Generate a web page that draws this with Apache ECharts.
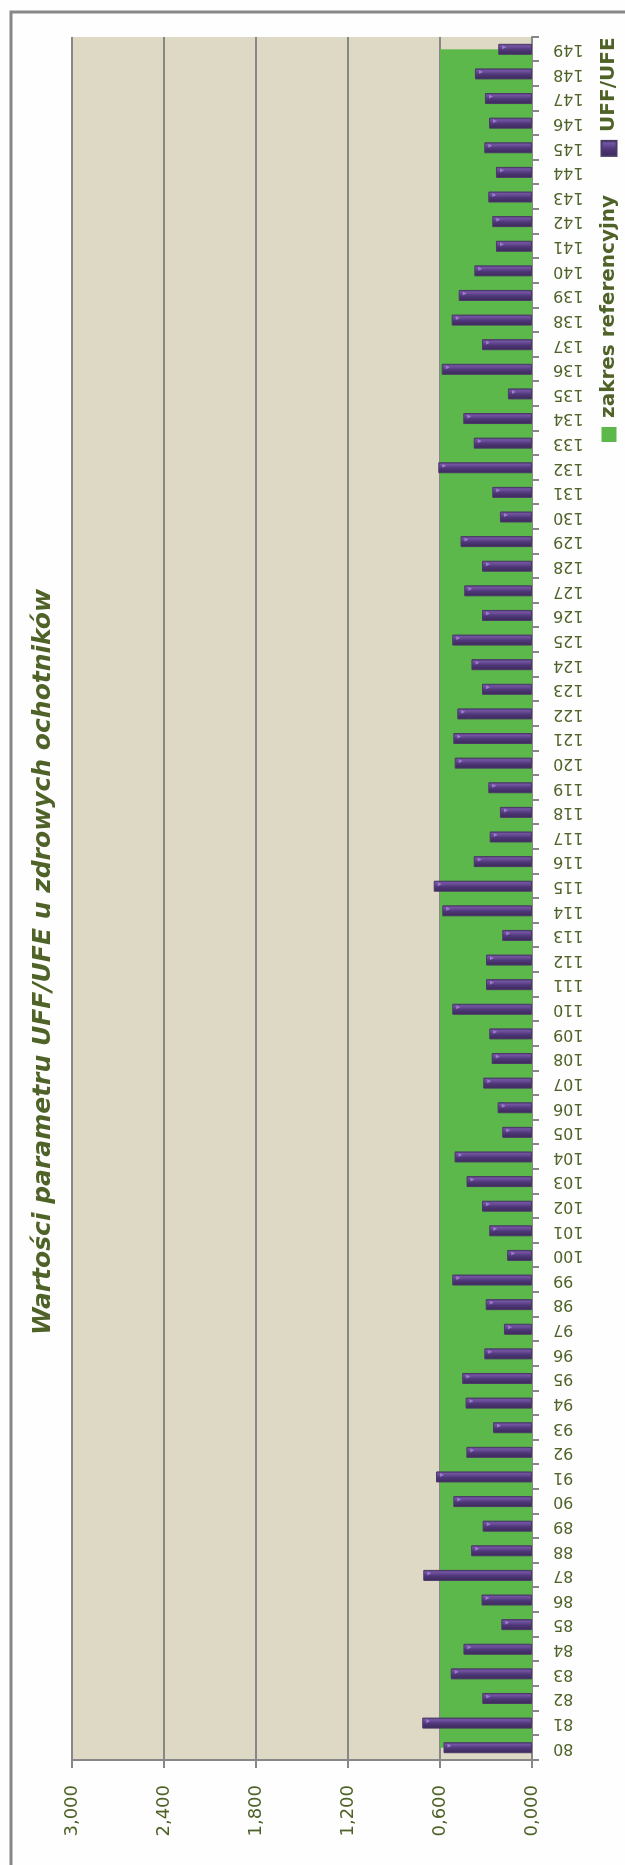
<!DOCTYPE html>
<html>
<head>
<meta charset="utf-8">
<script src="https://cdn.jsdelivr.net/npm/echarts@6/dist/echarts.min.js"></script>
<style>
  html, body { margin: 0; padding: 0; background: #fdfefd; width: 625px; height: 1865px; overflow: hidden; }
  /* The chart is laid out landscape and turned a quarter turn counter-clockwise onto the page */
  #chart {
    position: absolute; left: 0; top: 0;
    width: 1865px; height: 625px;
    transform-origin: 0 0;
    transform: translateY(1865px) rotate(-90deg);
  }
</style>
</head>
<body>
<div id="chart"></div>
<script>
// Volunteer numbers (categories)
const categories = [
  '80','81','82','83','84','85','86','87','88','89',
  '90','91','92','93','94','95','96','97','98','99',
  '100','101','102','103','104','105','106','107','108','109',
  '110','111','112','113','114','115','116','117','118','119',
  '120','121','122','123','124','125','126','127','128','129',
  '130','131','132','133','134','135','136','137','138','139',
  '140','141','142','143','144','145','146','147','148','149'
];

// UFF/UFE ratio per volunteer
const uffUfe = [
  0.577, 0.716, 0.324, 0.530, 0.447, 0.200, 0.329, 0.709, 0.397, 0.322,
  0.513, 0.626, 0.428, 0.254, 0.433, 0.455, 0.311, 0.183, 0.302, 0.520,
  0.162, 0.279, 0.326, 0.427, 0.505, 0.194, 0.224, 0.318, 0.263, 0.279,
  0.520, 0.300, 0.300, 0.194, 0.585, 0.641, 0.380, 0.276, 0.209, 0.285,
  0.504, 0.513, 0.487, 0.326, 0.395, 0.520, 0.326, 0.442, 0.326, 0.466,
  0.209, 0.259, 0.611, 0.380, 0.448, 0.157, 0.589, 0.326, 0.524, 0.478,
  0.376, 0.235, 0.259, 0.285, 0.235, 0.311, 0.280, 0.307, 0.372, 0.220
];

// Upper limit of the reference range, one value per volunteer
const referenceRange = [
  0.6, 0.6, 0.6, 0.6, 0.6, 0.6, 0.6, 0.6, 0.6, 0.6,
  0.6, 0.6, 0.6, 0.6, 0.6, 0.6, 0.6, 0.6, 0.6, 0.6,
  0.6, 0.6, 0.6, 0.6, 0.6, 0.6, 0.6, 0.6, 0.6, 0.6,
  0.6, 0.6, 0.6, 0.6, 0.6, 0.6, 0.6, 0.6, 0.6, 0.6,
  0.6, 0.6, 0.6, 0.6, 0.6, 0.6, 0.6, 0.6, 0.6, 0.6,
  0.6, 0.6, 0.6, 0.6, 0.6, 0.6, 0.6, 0.6, 0.6, 0.6,
  0.6, 0.6, 0.6, 0.6, 0.6, 0.6, 0.6, 0.6, 0.6, 0.6
];

const TITLE = 'Wartości parametru UFF/UFE u zdrowych ochotników';
const TEXT_GREEN = '#4f6228';
const GRID_GREY = '#878787';

const chart = echarts.init(document.getElementById('chart'), null, { width: 1865, height: 625, renderer: 'canvas' });

const barFill = new echarts.graphic.LinearGradient(0, 0, 1, 0, [
  { offset: 0, color: '#3b2858' },
  { offset: 0.45, color: '#4e3778' },
  { offset: 0.8, color: '#7454a2' },
  { offset: 1, color: '#503a7a' }
]);

chart.setOption({
  backgroundColor: '#fdfefd',
  animation: false,
  textStyle: { fontFamily: 'DejaVu Sans' },
  graphic: [
    {
      type: 'rect',
      shape: { x: -20, y: 11, width: 1873, height: 700 },
      style: { fill: 'none', stroke: GRID_GREY, lineWidth: 3 },
      silent: true
    },
    {
      type: 'text',
      left: 530, top: 31,
      style: {
        text: TITLE,
        font: 'italic bold 25px "DejaVu Sans"',
        fill: TEXT_GREEN
      }
    }
  ],
  legend: {
    data: ['zakres referencyjny', 'UFF/UFE'],
    left: 1418, top: 594,
    icon: 'rect',
    itemWidth: 15, itemHeight: 15,
    itemGap: 38,
    textStyle: { color: TEXT_GREEN, fontSize: 20, fontWeight: 'bold', fontFamily: 'DejaVu Sans', padding: [0, 0, 0, 4] }
  },
  grid: {
    left: 105, right: 37, top: 72, bottom: 93,
    show: true, backgroundColor: '#ddd9c4', borderWidth: 0
  },
  xAxis: {
    type: 'category',
    data: categories,
    boundaryGap: true,
    axisLine: { lineStyle: { color: GRID_GREY, width: 2 } },
    axisTick: { show: true, interval: 0, length: 7, lineStyle: { color: GRID_GREY, width: 2 } },
    axisLabel: { interval: 0, rotate: 90, margin: 21, fontSize: 16, color: TEXT_GREEN, fontFamily: 'DejaVu Sans' },
    splitLine: { show: false }
  },
  yAxis: {
    type: 'value',
    min: 0, max: 3, interval: 0.6,
    axisLine: { show: true, lineStyle: { color: GRID_GREY, width: 2 } },
    axisTick: { show: true, length: 8, lineStyle: { color: GRID_GREY, width: 2 } },
    axisLabel: {
      margin: 25, fontSize: 18, color: TEXT_GREEN, fontFamily: 'DejaVu Sans',
      formatter: v => v.toFixed(3).replace('.', ',')
    },
    splitLine: { show: true, lineStyle: { color: GRID_GREY, width: 2 } }
  },
  series: [
    {
      name: 'zakres referencyjny',
      type: 'line',
      data: referenceRange,
      symbol: 'none',
      lineStyle: { width: 0 },
      itemStyle: { color: '#5cb84a' },
      areaStyle: { color: '#5cb84a', opacity: 1 },
      z: 1
    },
    {
      name: 'UFF/UFE',
      type: 'bar',
      data: uffUfe,
      barWidth: 11,
      itemStyle: { color: barFill, borderColor: '#4a3a66', borderWidth: 1 },
      z: 3
    },
    {
      // small highlight at the rounded end of each bar
      name: 'tip',
      type: 'pictorialBar',
      data: uffUfe,
      symbol: 'path://M0,0 L10,0 L5,8 Z',
      symbolSize: [4, 4],
      symbolPosition: 'end',
      symbolOffset: [2, 4],
      itemStyle: { color: '#a07ad0' },
      z: 4,
      silent: true
    }
  ]
});
</script>
</body>
</html>
